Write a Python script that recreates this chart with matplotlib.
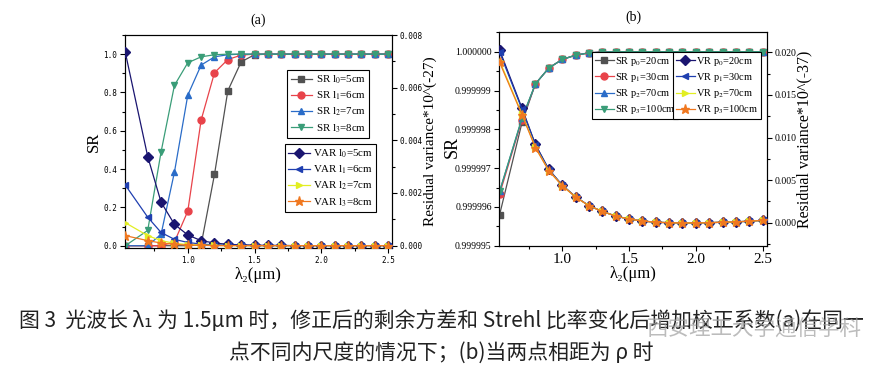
import matplotlib
matplotlib.use("Agg")
import matplotlib.pyplot as plt
from matplotlib.ticker import MultipleLocator, FormatStrFormatter

plt.rcParams['mathtext.fontset'] = 'stix'

# ---------------- data ----------------
x = [0.532, 0.7, 0.8, 0.9, 1.0, 1.1, 1.2, 1.3, 1.4, 1.5, 1.6, 1.7, 1.8, 1.9, 2.0,
     2.1, 2.2, 2.3, 2.4, 2.5]

# panel (a): SR for inner scales l0..l3
sr_a_l0 = [0.0, 0.0, 0.0, 0.0, 0.0, 0.005, 0.372, 0.809, 0.96, 0.997, 1.0, 1.0, 1.0, 1.0, 1.0, 1.0, 1.0, 1.0, 1.0, 1.0]
sr_a_l1 = [0.0, 0.0, 0.0, 0.02, 0.18, 0.656, 0.903, 0.972, 0.995, 1.0, 1.0, 1.0, 1.0, 1.0, 1.0, 1.0, 1.0, 1.0, 1.0, 1.0]
sr_a_l2 = [0.0, 0.0, 0.06, 0.384, 0.786, 0.943, 0.986, 0.997, 1.0, 1.0, 1.0, 1.0, 1.0, 1.0, 1.0, 1.0, 1.0, 1.0, 1.0, 1.0]
sr_a_l3 = [0.0, 0.08, 0.49, 0.837, 0.955, 0.986, 0.997, 1.0, 1.0, 1.0, 1.0, 1.0, 1.0, 1.0, 1.0, 1.0, 1.0, 1.0, 1.0, 1.0]
# panel (a): residual variance (x 10^-27)
var_a_l0 = [0.00734, 0.00338, 0.00165, 0.00081, 0.000405, 0.00019, 0.0001, 0.00005, 0.00003, 0.00002, 0.00001, 0.00001, 0.0, 0.0, 0.0, 0.0, 0.0, 0.0, 0.0, 0.0]
var_a_l1 = [0.0023, 0.00108, 0.0005, 0.00024, 0.00012, 0.00006, 0.00003, 0.00002, 0.00001, 0.0, 0.0, 0.0, 0.0, 0.0, 0.0, 0.0, 0.0, 0.0, 0.0, 0.0]
var_a_l2 = [0.00087, 0.00038, 0.00019, 0.00009, 0.00004, 0.00002, 0.00001, 0.0, 0.0, 0.0, 0.0, 0.0, 0.0, 0.0, 0.0, 0.0, 0.0, 0.0, 0.0, 0.0]
var_a_l3 = [0.00038, 0.00019, 0.0001, 0.00005, 0.00002, 0.00001, 0.0, 0.0, 0.0, 0.0, 0.0, 0.0, 0.0, 0.0, 0.0, 0.0, 0.0, 0.0, 0.0, 0.0]

# panel (b): SR for separations p0..p3
sr_b_p0 = [0.9999958, 0.99999818, 0.99999917, 0.99999958, 0.9999998, 0.99999991, 0.99999997, 0.99999999, 1.0, 1.0, 1.0, 1.0, 1.0, 1.0, 1.0, 1.0, 1.0, 1.0, 1.0, 1.0]
sr_b_p1 = [0.99999633, 0.99999825, 0.99999917, 0.99999958, 0.9999998, 0.99999991, 0.99999997, 0.99999999, 1.0, 1.0, 1.0, 1.0, 1.0, 1.0, 1.0, 1.0, 1.0, 1.0, 1.0, 1.0]
sr_b_p2 = [0.9999964, 0.99999828, 0.99999917, 0.99999958, 0.9999998, 0.99999991, 0.99999997, 0.99999999, 1.0, 1.0, 1.0, 1.0, 1.0, 1.0, 1.0, 1.0, 1.0, 1.0, 1.0, 1.0]
sr_b_p3 = [0.9999964, 0.9999983, 0.99999917, 0.99999958, 0.9999998, 0.99999991, 0.99999997, 0.99999999, 1.0, 1.0, 1.0, 1.0, 1.0, 1.0, 1.0, 1.0, 1.0, 1.0, 1.0, 1.0]
# panel (b): residual variance (x 10^-37)
vr_b_p0 = [0.02027, 0.01342, 0.00919, 0.00626, 0.00442, 0.00305, 0.002, 0.00133, 0.00078, 0.00043, 0.0002, 0.00006, 0.0, -0.00003, -0.00002, 0.0, 0.00006, 0.0001, 0.00018, 0.00028]
vr_b_p1 = [0.0200, 0.0133, 0.00912, 0.00622, 0.0044, 0.00304, 0.002, 0.00133, 0.00078, 0.00043, 0.0002, 0.00006, 0.0, -0.00003, -0.00002, 0.0, 0.00006, 0.0001, 0.00018, 0.00028]
vr_b_p2 = [0.0190, 0.01275, 0.00885, 0.00612, 0.00436, 0.00302, 0.00199, 0.00132, 0.00078, 0.00043, 0.0002, 0.00006, 0.0, -0.00003, -0.00002, 0.0, 0.00006, 0.0001, 0.00018, 0.00028]
vr_b_p3 = [0.01882, 0.01264, 0.0088, 0.0061, 0.00435, 0.00302, 0.00199, 0.00132, 0.00078, 0.00043, 0.0002, 0.00006, 0.0, -0.00003, -0.00002, 0.0, 0.00006, 0.0001, 0.00018, 0.00028]

sr_a_labels = [r"SR l$_0$=5cm", r"SR l$_1$=6cm", r"SR l$_2$=7cm", r"SR l$_3$=8cm"]
var_a_labels = [r"VAR l$_0$=5cm", r"VAR l$_1$=6cm", r"VAR l$_2$=7cm", r"VAR l$_3$=8cm"]
sr_b_labels = [r"SR p$_0$=20cm", r"SR p$_1$=30cm", r"SR p$_2$=70cm", r"SR p$_3$=100cm"]
vr_b_labels = [r"VR p$_0$=20cm", r"VR p$_1$=30cm", r"VR p$_2$=70cm", r"VR p$_3$=100cm"]

caption1 = "图 3  光波长 λ₁ 为 1.5μm 时，修正后的剩余方差和 Strehl 比率变化后增加校正系数(a)在同一"
caption2 = "点不同内尺度的情况下；(b)当两点相距为 ρ 时"
watermark = "西安理工大学通信学科"

# ---------------- styles ----------------
sr_colors = ["#515151", "#e8434a", "#2a6cc8", "#3a9d78"]
sr_markers = ["s", "o", "^", "v"]
var_colors = ["#1a1570", "#1f3fb0", "#e2ee22", "#f07820"]
var_markers = ["D", "<", ">", "*"]

SERIF = ["Liberation Serif", "DejaVu Serif"]
MONO = "DejaVu Sans Mono"

fig = plt.figure(figsize=(8.83, 3.70), dpi=100)

# ================= panel (a) =================
axa = fig.add_axes([0.1416, 0.3297, 0.3024, 0.5757])
axa2 = axa.twinx()
sr_a = [sr_a_l0, sr_a_l1, sr_a_l2, sr_a_l3]
var_a = [var_a_l0, var_a_l1, var_a_l2, var_a_l3]
h_sr_a = []
for ys, c, m, lab in zip(sr_a, sr_colors, sr_markers, sr_a_labels):
    l, = axa.plot(x, ys, color=c, marker=m, ms=5, lw=0.9, label=lab, zorder=3)
    h_sr_a.append(l)
h_var_a = []
for ys, c, m, lab in zip(var_a, var_colors, var_markers, var_a_labels):
    ms = 6.5 if m == "*" else 5
    l, = axa2.plot(x, ys, color=c, marker=m, ms=ms, lw=0.9, label=lab, zorder=3)
    h_var_a.append(l)

axa.set_xlim(0.53, 2.53)
axa.set_ylim(-0.012, 1.1)
axa2.set_ylim(-0.00009, 0.008)
axa.xaxis.set_major_locator(MultipleLocator(0.5))
axa.xaxis.set_minor_locator(MultipleLocator(0.25))
axa.yaxis.set_major_locator(MultipleLocator(0.2))
axa.yaxis.set_minor_locator(MultipleLocator(0.1))
axa.yaxis.set_major_formatter(FormatStrFormatter("%.1f"))
axa.xaxis.set_major_formatter(FormatStrFormatter("%.1f"))
axa2.yaxis.set_major_locator(MultipleLocator(0.002))
axa2.yaxis.set_minor_locator(MultipleLocator(0.001))
axa2.yaxis.set_major_formatter(FormatStrFormatter("%.3f"))
for ax in (axa, axa2):
    ax.tick_params(which="both", direction="out", width=0.8)
    ax.tick_params(which="major", length=3.5, labelsize=5.5, pad=2)
    ax.tick_params(which="minor", length=2)
    for lab in ax.get_xticklabels() + ax.get_yticklabels():
        lab.set_family(MONO)
axa.set_title("(a)", fontsize=10, family=SERIF, pad=8)
axa.set_ylabel("SR", fontsize=12, family=SERIF)
axa.yaxis.set_label_coords(-0.085, 0.5)
axa.set_xlabel("λ₂(μm)", fontsize=12, family=SERIF, labelpad=2)
axa2.set_ylabel("Residual variance*10^(-27)", fontsize=11, family=SERIF)
axa2.yaxis.set_label_coords(1.118, 0.5)

leg_kw = dict(frameon=True, fancybox=False, edgecolor="black", framealpha=1,
              borderaxespad=0)
leg1 = axa.legend(handles=h_sr_a, loc="upper left", bbox_to_anchor=(0.608, 0.835),
                  prop={"family": SERIF, "size": 7.8}, borderpad=0.3, labelspacing=0.35,
                  handlelength=2.0, handletextpad=0.3, **leg_kw)
leg1.get_frame().set_linewidth(0.8)
leg2 = axa2.legend(handles=h_var_a, loc="upper left", bbox_to_anchor=(0.598, 0.488),
                   prop={"family": SERIF, "size": 7.8}, borderpad=0.3, labelspacing=0.35,
                   handlelength=2.0, handletextpad=0.3, **leg_kw)
leg2.get_frame().set_linewidth(0.8)

# ================= panel (b) =================
axb = fig.add_axes([0.5655, 0.3359, 0.3028, 0.5768])
axb2 = axb.twinx()
sr_b = [sr_b_p0, sr_b_p1, sr_b_p2, sr_b_p3]
vr_b = [vr_b_p0, vr_b_p1, vr_b_p2, vr_b_p3]
h_sr_b = []
for ys, c, m, lab in zip(sr_b, sr_colors, sr_markers, sr_b_labels):
    l, = axb.plot(x, ys, color=c, marker=m, ms=5, lw=0.9, label=lab, zorder=3)
    h_sr_b.append(l)
h_vr_b = []
for ys, c, m, lab in zip(vr_b, var_colors, var_markers, vr_b_labels):
    ms = 6.5 if m == "*" else 5
    l, = axb2.plot(x, ys, color=c, marker=m, ms=ms, lw=0.9, label=lab, zorder=3)
    h_vr_b.append(l)

axb.set_xlim(0.53, 2.53)
axb.set_ylim(0.999995, 1.0000005)
axb2.set_ylim(-0.0027, 0.02235)
axb.xaxis.set_major_locator(MultipleLocator(0.5))
axb.xaxis.set_minor_locator(MultipleLocator(0.25))
axb.xaxis.set_major_formatter(FormatStrFormatter("%.1f"))
axb.yaxis.set_major_locator(MultipleLocator(1e-6))
axb.yaxis.set_minor_locator(MultipleLocator(5e-7))
axb.yaxis.set_major_formatter(FormatStrFormatter("%.6f"))
axb2.yaxis.set_major_locator(MultipleLocator(0.005))
axb2.yaxis.set_minor_locator(MultipleLocator(0.0025))
axb2.yaxis.set_major_formatter(FormatStrFormatter("%.3f"))
for ax in (axb, axb2):
    ax.tick_params(which="both", direction="out", width=0.8)
    ax.tick_params(which="major", length=3.5, labelsize=7, pad=2)
    ax.tick_params(which="minor", length=2)
    for lab in ax.get_xticklabels() + ax.get_yticklabels():
        lab.set_family(SERIF)
axb.tick_params(axis="x", labelsize=11)
axb.set_title("(b)", fontsize=10, family=SERIF, pad=8)
axb.set_ylabel("SR", fontsize=13, family=SERIF)
axb.yaxis.set_label_coords(-0.145, 0.462)
axb.set_xlabel("λ₂(μm)", fontsize=12, family=SERIF, labelpad=0)
axb2.set_ylabel("Residual variance*10^(-37)", fontsize=11.5, family=SERIF)
axb2.yaxis.set_label_coords(1.11, 0.5)

leg3 = axb.legend(handles=h_sr_b, loc="upper left", bbox_to_anchor=(0.348, 0.906),
                  prop={"family": SERIF, "size": 7.5}, borderpad=0.25, labelspacing=0.3,
                  handlelength=1.8, handletextpad=0.1, **leg_kw)
leg3.get_frame().set_linewidth(0.8)
leg4 = axb2.legend(handles=h_vr_b, loc="upper left", bbox_to_anchor=(0.651, 0.906),
                   prop={"family": SERIF, "size": 7.5}, borderpad=0.25, labelspacing=0.3,
                   handlelength=1.8, handletextpad=0.1, **leg_kw)
leg4.get_frame().set_linewidth(0.8)

# ================= caption =================
CJK = ["Noto Sans CJK SC", "DejaVu Sans"]
fig.text(0.5, 1 - 322 / 370, caption1, ha="center", va="center", fontsize=15,
         family=CJK, color="#222222")
fig.text(0.5, 1 - 353 / 370, caption2, ha="center", va="center", fontsize=15,
         family=CJK, color="#222222")
fig.text(0.733, 1 - 329 / 370, watermark, ha="left", va="center", fontsize=15.5,
         family=CJK, color="#a0a0a0", alpha=0.7)

fig.savefig("out.png", dpi=100)
